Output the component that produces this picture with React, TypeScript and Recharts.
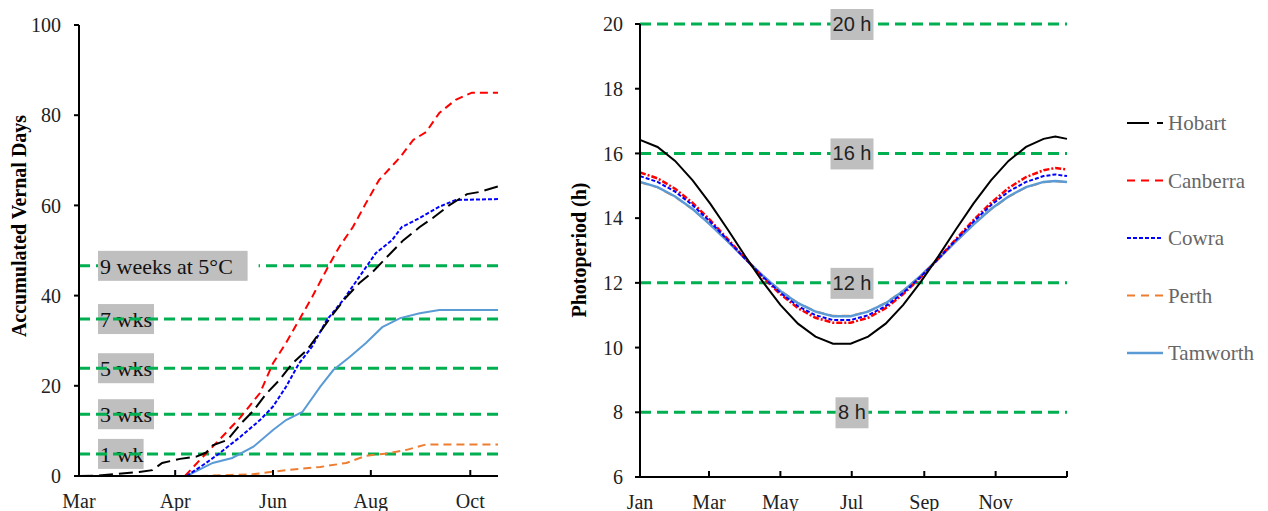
import React from 'react';
import { LineChart, Line, XAxis, YAxis, ReferenceLine } from 'recharts';

const SERIF = '"Liberation Serif", "Times New Roman", serif';
const SANS = '"Liberation Sans", Arial, sans-serif';
const GREEN = '#00B050';

// ---- left panel: accumulated vernal days (x = days from start of axis) ----
const VD_TICKS = [0, 59, 119, 179, 240];
const VD_TICK_LABELS = ['Mar', 'Apr', 'Jun', 'Aug', 'Oct'];
const VD_Y_TICKS = [0, 20, 40, 60, 80, 100];

const HOBART_VD = [
  [0, 0], [12, 0.1], [21, 0.4], [37, 0.9], [45, 1.3], [51, 2.9], [62, 3.8], [72, 4.3], [78, 5.2], [82, 6.8],
  [91, 8], [99, 11.5], [107, 14.5], [115, 18.3], [123, 21.3], [131, 25], [140, 28], [148, 32], [156, 36],
  [164, 39.7], [172, 42.8], [180, 45.2], [189, 48.6], [199, 52.3], [209, 55.2], [217, 57.2], [227, 60],
  [238, 62.5], [246, 63], [257, 64.2],
];
const CANBERRA_VD = [
  [65, 0], [74, 3.5], [86, 8], [99, 13], [111, 18.4], [119, 25], [127, 29.5], [135, 34.6], [143, 39.7],
  [154, 47.2], [160, 51], [168, 55.2], [176, 60.5], [184, 65.6], [197, 70.7], [205, 74.5], [213, 76.3],
  [221, 80.5], [231, 83.4], [241, 85], [257, 85],
];
const COWRA_VD = [
  [66, 0], [78, 2.9], [86, 5], [99, 8.7], [111, 12.4], [119, 15.4], [127, 19.8], [135, 25], [143, 28.7],
  [152, 34.6], [162, 39], [172, 44.2], [182, 49.4], [192, 52.3], [198, 55.2], [209, 57.2], [221, 59.7],
  [231, 61.2], [257, 61.4],
];
const PERTH_VD = [
  [74, 0], [107, 0.4], [127, 1.3], [148, 2], [164, 2.9], [176, 4.5], [189, 5], [201, 5.8], [213, 7], [257, 7],
];
const TAMWORTH_VD = [
  [66, 0], [82, 2.9], [94, 4], [107, 6.5], [119, 10.2], [127, 12.4], [137, 14.2], [148, 19.8], [156, 23.5],
  [166, 26.4], [176, 29.5], [186, 33], [197, 35], [209, 36.1], [221, 36.8], [257, 36.8],
];
const VD_TARGETS = [46.6, 34.8, 23.9, 13.7, 4.9];
const VD_TARGET_LABELS = ['9 weeks at 5°C', '7 wks', '5 wks', '3 wks', '1 wk'];

// ---- right panel: photoperiod (x = day of year) ----
const PP_TICKS = [0, 59, 120, 181, 243, 304, 365];
const PP_TICK_LABELS = ['Jan', 'Mar', 'May', 'Jul', 'Sep', 'Nov', ''];
const PP_Y_TICKS = [6, 8, 10, 12, 14, 16, 18, 20];
const PP_DAYS = [0, 15, 30, 45, 60, 75, 90, 105, 120, 135, 150, 165, 180, 195, 210, 225, 240, 255, 270, 285, 300, 315, 330, 345, 355, 365];
const HOBART_PP = [16.42, 16.2, 15.77, 15.17, 14.45, 13.65, 12.82, 12.03, 11.32, 10.74, 10.34, 10.12, 10.12, 10.34, 10.74, 11.32, 12.03, 12.82, 13.65, 14.45, 15.17, 15.77, 16.2, 16.45, 16.52, 16.45];
const CANBERRA_PP = [15.41, 15.23, 14.91, 14.47, 13.94, 13.35, 12.75, 12.17, 11.65, 11.22, 10.92, 10.77, 10.77, 10.92, 11.22, 11.65, 12.17, 12.75, 13.35, 13.94, 14.47, 14.93, 15.27, 15.48, 15.55, 15.5];
const COWRA_PP = [15.3, 15.12, 14.82, 14.4, 13.89, 13.32, 12.74, 12.19, 11.69, 11.28, 11.0, 10.85, 10.85, 11.0, 11.28, 11.69, 12.19, 12.74, 13.32, 13.89, 14.4, 14.82, 15.12, 15.3, 15.35, 15.3];
const PERTH_PP = [15.11, 14.95, 14.66, 14.27, 13.8, 13.28, 12.74, 12.22, 11.76, 11.38, 11.12, 10.98, 10.98, 11.12, 11.38, 11.76, 12.22, 12.74, 13.28, 13.8, 14.27, 14.66, 14.95, 15.11, 15.14, 15.11];
const TAMWORTH_PP = [15.12, 14.96, 14.67, 14.28, 13.8, 13.28, 12.74, 12.22, 11.75, 11.37, 11.11, 10.97, 10.97, 11.11, 11.37, 11.75, 12.22, 12.74, 13.28, 13.8, 14.28, 14.67, 14.96, 15.12, 15.15, 15.12];
const PP_TARGETS = [20, 16, 12, 8];
const PP_TARGET_LABELS = ['20 h', '16 h', '12 h', '8 h'];

const toPts = (arr: number[][]) => arr.map(([d, v]) => ({ d, v }));
const ppData = PP_DAYS.map((d, i) => ({
  d,
  hobart: HOBART_PP[i],
  canberra: CANBERRA_PP[i],
  cowra: COWRA_PP[i],
  perth: PERTH_PP[i],
  tamworth: TAMWORTH_PP[i],
}));

const LEGEND = [
  { name: 'Hobart', color: '#000000', dash: '22 8', width: 2 },
  { name: 'Canberra', color: '#FF0000', dash: '8 6', width: 2 },
  { name: 'Cowra', color: '#0000FF', dash: '4 2', width: 2 },
  { name: 'Perth', color: '#ED7D31', dash: '8 6', width: 2 },
  { name: 'Tamworth', color: '#5B9BD5', dash: undefined, width: 2.5 },
];

const axisStyle = { stroke: '#000', strokeWidth: 2 };

// bottom ticks point up into the plot, labels below
const monthTick = (ticks: number[], labels: string[]) => (props: any) => {
  const { x, y, payload } = props;
  const axisY = y - 18;
  const i = ticks.indexOf(payload.value);
  return (
    <g>
      <line x1={x} x2={x} y1={axisY} y2={axisY - 6} stroke="#000" strokeWidth={2} />
      <text x={x} y={y} dy="0.71em" textAnchor="middle" fontSize={20} fontFamily={SERIF} fill="#222">
        {labels[i]}
      </text>
    </g>
  );
};

function VdBox({ viewBox, text }: any) {
  if (!viewBox) return null;
  const x0 = viewBox.x + 19;
  const w = text.length * 10.4 + 4;
  const long = text.length > 6;
  return (
    <g>
      {long && <rect x={x0} y={viewBox.y - 15} width={w + 11} height={30} fill="#fff" />}
      <rect x={x0} y={viewBox.y - 15} width={w} height={30} fill="#BFBFBF" />
      <text x={x0 + 2} y={viewBox.y + 8} fontSize={22} fontFamily={SERIF} fill="#111">
        {text}
      </text>
    </g>
  );
}

function PpBox({ viewBox, text }: any) {
  if (!viewBox) return null;
  const cx = viewBox.x + 212;
  const w = text.length * 10 + 3;
  return (
    <g>
      <rect x={cx - w / 2} y={viewBox.y - 15} width={w} height={31} fill="#BFBFBF" />
      <text x={cx} y={viewBox.y + 7} textAnchor="middle" fontSize={20} fontFamily={SANS} fill="#222">
        {text}
      </text>
    </g>
  );
}

export default function App() {
  return (
    <div style={{ position: 'absolute', left: 0, top: 0, width: 1268, height: 511, background: '#fff', overflow: 'hidden' }}>
      <div style={{ position: 'absolute', left: 0, top: 0 }}>
        <LineChart width={520} height={511} margin={{ top: 25, right: 22, bottom: 0, left: 0 }}>
          <XAxis
            type="number"
            dataKey="d"
            domain={[0, 257]}
            ticks={VD_TICKS}
            height={35}
            tickSize={0}
            tickMargin={18}
            tickLine={false}
            axisLine={axisStyle}
            tick={monthTick(VD_TICKS, VD_TICK_LABELS)}
            allowDataOverflow
          />
          <YAxis
            type="number"
            domain={[0, 100]}
            ticks={VD_Y_TICKS}
            width={79}
            tickSize={5}
            tickMargin={13}
            axisLine={axisStyle}
            tickLine={axisStyle}
            tick={{ fontSize: 20, fontFamily: SERIF, fill: '#222' }}
          />
          {/* short labels sit under their target line */}
          {VD_TARGETS.map((t, i) =>
            VD_TARGET_LABELS[i].length > 6 ? null : (
              <ReferenceLine key={'b' + i} y={t} stroke="none" label={<VdBox text={VD_TARGET_LABELS[i]} />} />
            )
          )}
          {VD_TARGETS.map((t, i) => (
            <ReferenceLine key={'l' + i} y={t} stroke={GREEN} strokeWidth={3} strokeDasharray="11 6" />
          ))}
          {VD_TARGETS.map((t, i) =>
            VD_TARGET_LABELS[i].length > 6 ? (
              <ReferenceLine key={'t' + i} y={t} stroke="none" label={<VdBox text={VD_TARGET_LABELS[i]} />} />
            ) : null
          )}
          <Line data={toPts(TAMWORTH_VD)} dataKey="v" stroke="#5B9BD5" strokeWidth={2} dot={false} isAnimationActive={false} />
          <Line data={toPts(PERTH_VD)} dataKey="v" stroke="#ED7D31" strokeWidth={2} strokeDasharray="8 5" dot={false} isAnimationActive={false} />
          <Line data={toPts(CANBERRA_VD)} dataKey="v" stroke="#FF0000" strokeWidth={2} strokeDasharray="8 5" dot={false} isAnimationActive={false} />
          <Line data={toPts(COWRA_VD)} dataKey="v" stroke="#0000FF" strokeWidth={2} strokeDasharray="4 2" dot={false} isAnimationActive={false} />
          <Line data={toPts(HOBART_VD)} dataKey="v" stroke="#000" strokeWidth={2} strokeDasharray="14 6" dot={false} isAnimationActive={false} />
        </LineChart>
      </div>

      <div style={{ position: 'absolute', left: 540, top: 0 }}>
        <LineChart width={560} height={511} data={ppData} margin={{ top: 24, right: 33, bottom: 0, left: 0 }}>
          <XAxis
            type="number"
            dataKey="d"
            domain={[0, 365]}
            ticks={PP_TICKS}
            height={34}
            tickSize={0}
            tickMargin={18}
            tickLine={false}
            axisLine={axisStyle}
            tick={monthTick(PP_TICKS, PP_TICK_LABELS)}
          />
          <YAxis
            type="number"
            domain={[6, 20]}
            ticks={PP_Y_TICKS}
            width={100}
            tickSize={5}
            tickMargin={12}
            axisLine={axisStyle}
            tickLine={axisStyle}
            tick={{ fontSize: 20, fontFamily: SERIF, fill: '#222' }}
          />
          {PP_TARGETS.map((t, i) => (
            <ReferenceLine key={i} y={t} stroke={GREEN} strokeWidth={3} strokeDasharray="11 6" label={<PpBox text={PP_TARGET_LABELS[i]} />} />
          ))}
          <Line dataKey="perth" stroke="#ED7D31" strokeWidth={2} strokeDasharray="8 5" dot={false} isAnimationActive={false} />
          <Line dataKey="tamworth" stroke="#5B9BD5" strokeWidth={2.5} dot={false} isAnimationActive={false} />
          <Line dataKey="canberra" stroke="#FF0000" strokeWidth={2.5} strokeDasharray="6 2 2 2" dot={false} isAnimationActive={false} />
          <Line dataKey="cowra" stroke="#0000FF" strokeWidth={2} strokeDasharray="4 2" dot={false} isAnimationActive={false} />
          <Line dataKey="hobart" stroke="#000" strokeWidth={2} dot={false} isAnimationActive={false} />
        </LineChart>
      </div>

      <svg width={1268} height={511} style={{ position: 'absolute', left: 0, top: 0, pointerEvents: 'none' }}>
        <text x={19} y={226} transform="rotate(-90 19 226)" textAnchor="middle" dominantBaseline="central" fontSize={20} fontWeight="bold" fontFamily={SERIF} fill="#000">
          Accumulated Vernal Days
        </text>
        <text x={579} y={250} transform="rotate(-90 579 250)" textAnchor="middle" dominantBaseline="central" fontSize={20} fontWeight="bold" fontFamily={SERIF} fill="#000">
          Photoperiod (h)
        </text>
        {LEGEND.map((l, i) => {
          const y = 123 + i * 57.5;
          return (
            <g key={l.name}>
              <line x1={1127} x2={1163} y1={y} y2={y} stroke={l.color} strokeWidth={l.width} strokeDasharray={l.dash} />
              <text x={1168} y={y} dominantBaseline="central" fontSize={21} fontFamily={SERIF} fill="#666">
                {l.name}
              </text>
            </g>
          );
        })}
      </svg>
    </div>
  );
}
